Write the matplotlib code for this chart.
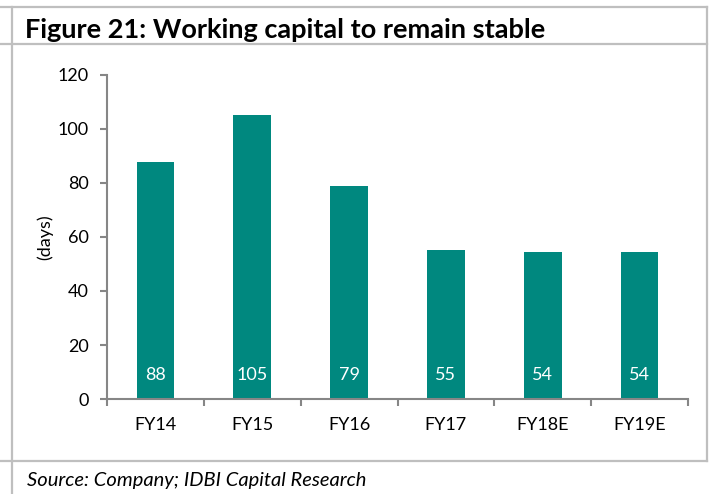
import matplotlib
matplotlib.use("Agg")
import matplotlib.pyplot as plt
from matplotlib.lines import Line2D

plt.rcParams['font.family'] = ['Lato', 'DejaVu Sans']

# data
years = ['FY14', 'FY15', 'FY16', 'FY17', 'FY18E', 'FY19E']
days = [87.6, 105.0, 78.9, 55.2, 54.4, 54.3]
yticks = [0, 20, 40, 60, 80, 100, 120]

bar_col = '#00887F'
frame_col = '#BFBFBF'
axis_col = '#868686'

fig = plt.figure(figsize=(7.09, 4.94), dpi=100)
ax = fig.add_axes([0.1509, 0.1923, 0.8195, 0.6559])

x = range(len(years))
bars = ax.bar(x, days, width=0.39, color=bar_col, zorder=2)

# labels inside base of bars
for xi, v in zip(x, days):
    ax.annotate(f'{v:.0f}', (xi, 0), xytext=(0, 17.5), textcoords='offset points',
                ha='center', va='center', color='white', fontsize=13)

ax.set_xlim(-0.5, len(years) - 0.5)
ax.set_ylim(0, 120)
ax.set_yticks(yticks)
ax.set_xticks(list(x))
ax.set_xticklabels(years)
# category boundary ticks like excel
ax.set_xticks([i - 0.5 for i in range(len(years) + 1)], minor=True)
ax.tick_params(axis='x', which='major', length=0, pad=13, labelsize=13)
ax.tick_params(axis='x', which='minor', length=5, width=1.5, color=axis_col, direction='out')
ax.tick_params(axis='y', length=5, width=1.5, color=axis_col, labelsize=13, pad=8)

for s in ['top', 'right']:
    ax.spines[s].set_visible(False)
for s in ['left', 'bottom']:
    ax.spines[s].set_color(axis_col)
    ax.spines[s].set_linewidth(1.5)

ax.set_ylabel('(days)', fontsize=13, labelpad=3)

# title, source and frame lines
fig.text(0.035, 0.94, 'Figure 21: Working capital to remain stable',
         fontsize=19.5, fontweight='bold', ha='left', va='center')
fig.text(0.038, 0.028, 'Source: Company; IDBI Capital Research',
         fontsize=14.5, style='italic', ha='left', va='center')

lw = 1.6
fig.add_artist(Line2D([0, 0.997], [0.9858, 0.9858], color=frame_col, lw=lw))
fig.add_artist(Line2D([0, 0.997], [0.911, 0.911], color=frame_col, lw=lw))
fig.add_artist(Line2D([0, 0.997], [0.0668, 0.0668], color=frame_col, lw=lw))
fig.add_artist(Line2D([0.017, 0.017], [0, 0.9858], color=frame_col, lw=lw))
fig.add_artist(Line2D([0.997, 0.997], [0.0668, 0.9858], color=frame_col, lw=lw))

fig.savefig('out.png', dpi=100)
